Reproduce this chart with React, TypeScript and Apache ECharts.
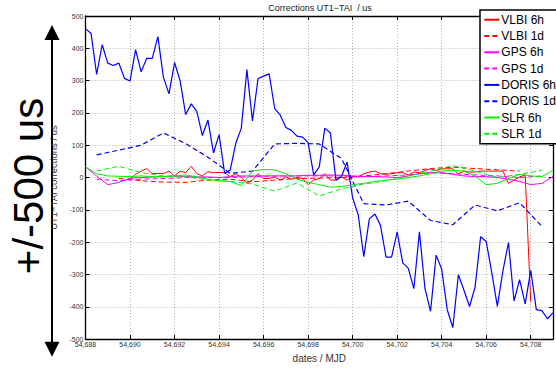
import React, { useEffect, useRef } from "react";
import * as echarts from "echarts";

// ---- data ----
const STEP_6H = 0.25;
const STEP_HALF = 0.5;
const STEP_1D = 1;

const VLBI_6H_START = 54690;
const VLBI_6H = [
  -5, 10, 20, 28, 12, 13, 12, 20, 5, 20, 15, 35, 12, 5, 18, 15, 16, 15, 3, 12, 0,
  -17, -8, 12, -3, -3, 2, -8, 2, -5, 0, -3, -22, -8, -3, 12, -8, -8, 2, -8, 2, 2, 12, 17, 20, 12, 10, 12, 15,
  15, 8, 17, 15, 22, 27, 22, 27, 27, 27, 12, 20, 17, 17, 20, 20, 20, 20, 20, -18, -8, 2, 8, -385,
];
const VLBI_1D_START = 54689.5;
const VLBI_1D = [-3, -10, -14, -15, -8, -5, -13, -8, -3, -2, 0, 5, 12, 20, 28, 32, 28, 24, 20];

const GPS_6H_START = 54688;
const GPS_6H = [
  33, 5, -22, -15, -2, 0, 2, 3, 5, 3, 2, 2, 0, 3, 5, 5, 5, 5, 5, 5, 7, 7, 8, 7, 5, 3, 3, 2, 0, 5,
  12, 15, 15, 10, 5, 3, 3, 0, -5, -12, -22, -18, 3,
];
const GPS_1D_START = 54688.5;
const GPS_1D = [-5, -10, -5, -3, 0, 0, 0, 3, 5, 5, 5, 5, 3, 5, 8, 15, 12, 8, 5, 0, 5];

const DORIS_6H_START = 54688;
const DORIS_6H = [
  461, 446, 319, 411, 354, 347, 354, 307, 299, 396, 327, 369, 369, 436, 311, 259, 356, 299, 195, 228,
  205, 130, 178, 76, 133, 13, 23, 106, 153,
  334, 175, 306, 314, 321, 213, 193, 155, 146, 128, 125, 108, 8, 33, 153, 138, -8, 3, 48,
  -63, -115, -245, -128, -113, -148, -246, -246, -168, -264, -281, -344, -168, -344, -414, -240, -284,
  -409, -464, -301, -349, -399, -339, -183, -198, -294, -399, -289, -201, -382, -316, -391, -287, -409,
  -412, -437, -419,
];
const DORIS_1D_START = 54688.5;
const DORIS_1D = [70, 85, 100, 138, 105, 63, 13, 20, 104, 106, 104, 59, -81, -85, -73, -133, -146, -85, -103, -78, -151];

const SLR_6H_START = 54688;
const SLR_6H = [
  33, 12, 5, 4, 3, 5, 3, 3, 5, 8, 2, -5, -10, -12, -25, 20, 25, 24, 12, -5, -15, -22, -30, -28, -22,
  -18, -12, -8, -5, 0, 5, 12, 20, 22, 20, 5, -22, -18, -3, 10, 5, 3, 22,
];
const SLR_1D_START = 54688.5;
const SLR_1D = [20, 35, 15, 5, 3, -8, -12, -20, -42, -17, -57, -35, -20, -10, 5, 20, 37, 20, 0, 10, 22];

const X_MIN = 54688;
const X_MAX = 54709;
const X_INTERVAL = 2;
const Y_MIN = -500;
const Y_MAX = 500;
const Y_INTERVAL = 100;

const TITLE = "Corrections UT1\u2212TAI  / us";
const Y_NAME = "UT1\u2212TAI corrections / us";
const X_NAME = "dates / MJD";
const BIG_LABEL = "+/-500 us";

const pts = (start: number, step: number, vals: number[]) =>
  vals.map((v, i) => [start + i * step, v]);

const FONT = "'Liberation Sans', Arial, Helvetica, sans-serif";

export default function App() {
  const ref = useRef<HTMLDivElement>(null);
  useEffect(() => {
    if (!ref.current) return;
    const chart = echarts.init(ref.current, undefined, { renderer: "svg" });
    const RED = "#ff0000";
    const MAG = "#ff00ff";
    const BLUE = "#0000ff";
    const GREEN = "#00f000";
    const DASH = [5, 3];
    const mk = (name: string, data: number[][], color: string, dashed: boolean, width = 1) => ({
      name,
      type: "line",
      data,
      symbol: "none",
      showSymbol: false,
      lineStyle: { color, width, type: dashed ? DASH : "solid" },
      itemStyle: { color },
      xAxisIndex: 0,
      yAxisIndex: 0,
    });
    const fmtX = (v: number) => {
      if (Math.abs(v - Math.round(v)) > 1e-6 || Math.round(v) % 2 !== 0) return "";
      return Math.round(v).toLocaleString("en-US");
    };
    const axisLine = { show: true, onZero: false, lineStyle: { color: "#000", width: 1.3 } };
    const tick = { show: true, inside: true, length: 4, lineStyle: { color: "#000", width: 1 } };
    const split = { show: true, lineStyle: { color: "#b0b0b0", width: 1, type: [1, 2] } };
    chart.setOption({
      animation: false,
      textStyle: { fontFamily: FONT },
      grid: { left: 85.5, right: 2, top: 16, bottom: 19.7, containLabel: false },
      xAxis: [
        {
          type: "value",
          min: X_MIN,
          max: X_MAX,
          interval: X_INTERVAL,
          name: X_NAME,
          nameLocation: "middle",
          nameGap: 9.5,
          nameTextStyle: { fontSize: 10, color: "#333", fontFamily: FONT },
          axisLine,
          axisTick: tick,
          splitLine: split,
          axisLabel: { fontSize: 7, color: "#333", margin: 2, formatter: fmtX, fontFamily: FONT },
        },
        {
          type: "value",
          position: "top",
          min: X_MIN,
          max: X_MAX,
          interval: X_INTERVAL,
          axisLine,
          axisTick: tick,
          splitLine: { show: false },
          axisLabel: { show: false },
        },
      ],
      yAxis: [
        {
          type: "value",
          min: Y_MIN,
          max: Y_MAX,
          interval: Y_INTERVAL,
          name: Y_NAME,
          nameLocation: "middle",
          nameGap: 17,
          nameTextStyle: { fontSize: 9.5, color: "#333", fontFamily: FONT },
          axisLine,
          axisTick: tick,
          splitLine: split,
          axisLabel: { fontSize: 7, color: "#333", margin: 2, fontFamily: FONT },
        },
        {
          type: "value",
          position: "right",
          min: Y_MIN,
          max: Y_MAX,
          interval: Y_INTERVAL,
          axisLine,
          axisTick: tick,
          splitLine: { show: false },
          axisLabel: { show: false },
        },
      ],
      legend: {
        orient: "vertical",
        left: 480,
        top: 10,
        padding: [3.7, 12, 4, 3.3],
        itemWidth: 15,
        itemHeight: 14,
        itemGap: 4.3,
        backgroundColor: "#fff",
        borderColor: "#000",
        borderWidth: 1.5,
        borderRadius: 0,
        itemStyle: { opacity: 0 },
        textStyle: { fontSize: 12, color: "#000", fontFamily: FONT, padding: [0, 0, 0, -3] },
        data: ["VLBI 6h", "VLBI 1d", "GPS 6h", "GPS 1d", "DORIS 6h", "DORIS 1d", "SLR 6h", "SLR 1d"],
      },
      series: [
        mk("VLBI 6h", pts(VLBI_6H_START, STEP_6H, VLBI_6H), RED, false),
        mk("VLBI 1d", pts(VLBI_1D_START, STEP_1D, VLBI_1D), RED, true),
        mk("GPS 6h", pts(GPS_6H_START, STEP_HALF, GPS_6H), MAG, false),
        mk("GPS 1d", pts(GPS_1D_START, STEP_1D, GPS_1D), MAG, true),
        mk("DORIS 6h", pts(DORIS_6H_START, STEP_6H, DORIS_6H), BLUE, false, 1.2),
        mk("DORIS 1d", pts(DORIS_1D_START, STEP_1D, DORIS_1D), BLUE, true, 1.2),
        mk("SLR 6h", pts(SLR_6H_START, STEP_HALF, SLR_6H), GREEN, false),
        mk("SLR 1d", pts(SLR_1D_START, STEP_1D, SLR_1D), GREEN, true),
      ],
      graphic: [
        {
          type: "text",
          x: 320,
          y: 7.5,
          style: { text: TITLE, fontSize: 9, fill: "#222", align: "center", verticalAlign: "middle", fontFamily: FONT },
        },
        {
          type: "text",
          x: 28,
          y: 186,
          rotation: Math.PI / 2,
          style: { text: BIG_LABEL, fontSize: 42, fill: "#000", align: "center", verticalAlign: "middle", fontFamily: FONT },
        },
        {
          type: "line",
          shape: { x1: 52, y1: 38, x2: 52, y2: 344 },
          style: { stroke: "#000", lineWidth: 2 },
        },
        {
          type: "polygon",
          shape: { points: [[44.5, 40], [52, 25], [59.5, 40]] },
          style: { fill: "#000" },
        },
        {
          type: "polygon",
          shape: { points: [[44.5, 341.7], [52, 356.7], [59.5, 341.7]] },
          style: { fill: "#000" },
        },
      ],
    });
    return () => chart.dispose();
  }, []);
  return (
    <div
      ref={ref}
      style={{ position: "fixed", left: 0, top: 0, width: 556, height: 368, background: "#fff" }}
    />
  );
}
